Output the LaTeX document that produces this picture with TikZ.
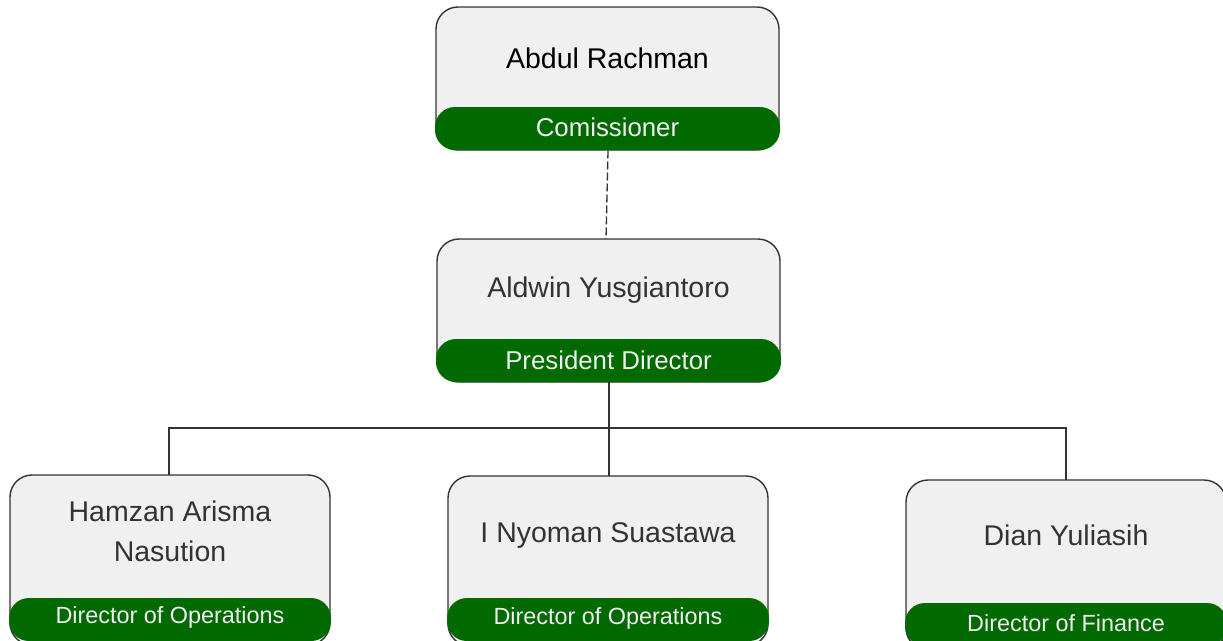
\documentclass[tikz,border=0pt]{standalone}
\usepackage{fontspec}
\setmainfont{Liberation Sans}
\definecolor{bandgreen}{RGB}{0,106,0}
\definecolor{boxfill}{RGB}{240,240,240}
\definecolor{boxline}{RGB}{51,51,51}
\definecolor{nametext}{RGB}{51,51,51}
\tikzset{
  card/.style={draw=boxline, line width=1.4pt, fill=boxfill, rounded corners=22pt, inner sep=0pt, outer sep=0pt},
  band/.style={fill=bandgreen, rounded corners=20pt, inner sep=0pt, outer sep=0pt},
  nametxt/.style={text=nametext, font=\fontsize{28.5}{40}\selectfont, align=center, inner sep=0pt},
  roletop/.style={text=boxfill, font=\fontsize{25.8}{30}\selectfont, inner sep=0pt},
  rolebot/.style={text=boxfill, font=\fontsize{23.4}{28}\selectfont, inner sep=0pt},
  link/.style={draw=boxline, line width=1.3pt},
}
\begin{document}
\begin{tikzpicture}[x=1pt,y=-1pt]
\useasboundingbox (0,0) rectangle (1223,640);
\clip (0,0) rectangle (1223,640);
% top card
\node[card, minimum width=343pt, minimum height=143pt] (c1) at (607.5,78.5) {};
\node[band, minimum width=345pt, minimum height=43pt] (b1) at (607.5,128.5) {};
\node[nametxt, text=black] (n1) at (607.5,58) {Abdul Rachman};
\node[roletop] (r1) at (607.5,127.5) {Comissioner};
% second card
\node[card, minimum width=343pt, minimum height=143pt] (c2) at (608.5,310.5) {};
\node[band, minimum width=345pt, minimum height=43pt] (b2) at (608.5,360.5) {};
\node[nametxt] (n2) at (608.5,290) {Aldwin Yusgiantoro};
\node[roletop] (r2) at (608.5,360.5) {President Director};
% bottom cards
\node[card, minimum width=320pt, minimum height=170pt] (c3) at (170,560) {};
\node[band, minimum width=322pt, minimum height=43pt] (b3) at (170,619.5) {};
\node[nametxt] (n3) at (170,531) {Hamzan Arisma\\Nasution};
\node[rolebot] (r3) at (170,617.5) {Director of Operations};
\node[card, minimum width=320pt, minimum height=170pt] (c4) at (608,561) {};
\node[band, minimum width=322pt, minimum height=43pt] (b4) at (608,619.5) {};
\node[nametxt] (n4) at (608,535) {I Nyoman Suastawa};
\node[rolebot] (r4) at (608,618.5) {Director of Operations};
\node[card, minimum width=320pt, minimum height=170pt] (c5) at (1066,565) {};
\node[band, minimum width=322pt, minimum height=43pt] (b5) at (1066,624.5) {};
\node[nametxt] (n5) at (1066,535) {Dian Yuliasih};
\node[rolebot] (r5) at (1066,623.5) {Director of Finance};
% connectors
\coordinate (d1) at (608,150.5);
\coordinate (d2) at (606,239);
\draw[link, dashed, dash pattern=on 8pt off 3pt, line width=1.3pt] (d1) -- (d2);
\coordinate (t0) at (609,382);
\coordinate (tj) at (609,428);
\coordinate (tl) at (169,428);
\coordinate (tr) at (1066,428);
\coordinate (e3) at (169,475);
\coordinate (e4) at (609,476);
\coordinate (e5) at (1066,480);
\draw[link] (t0) -- (tj);
\draw[link] (e3) -- (tl) -- (tr) -- (e5);
\draw[link] (tj) -- (e4);
\end{tikzpicture}
\end{document}
